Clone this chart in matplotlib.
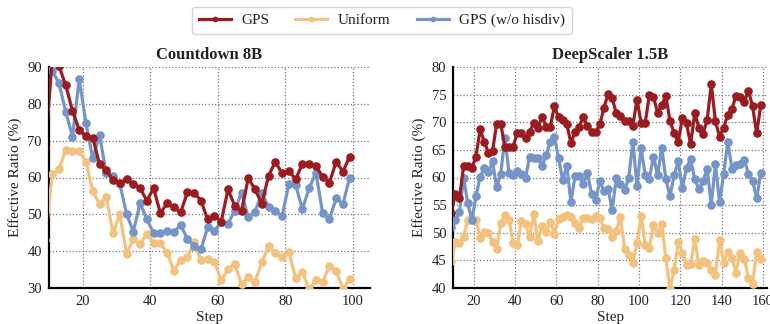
import matplotlib
matplotlib.use("Agg")
import matplotlib.pyplot as plt

plt.rcParams['font.family'] = ['Liberation Serif', 'DejaVu Serif']
plt.rcParams['mathtext.fontset'] = 'stix'

# ---------------- data ----------------
steps_cd = list(range(9, 100, 2))
gps_cd = [68, 92, 90.3, 85.1, 78.1, 72.9, 71.3, 70.8, 63.6, 62.0, 59.3, 58.4, 59.5, 58.2,
          57.1, 53.7, 57.1, 50.3, 53.0, 51.9, 50.5, 56.0, 55.9, 53.7, 48.6, 49.6, 48.0,
          56.8, 52.3, 51.0, 59.8, 56.8, 52.8, 60.5, 64.3, 61.1, 61.8, 59.5, 63.7, 63.6,
          63.1, 60.2, 58.6, 64.3, 61.6, 65.7]
uni_cd = [43, 61.0, 62.2, 67.6, 67.3, 67.3, 64.1, 56.3, 52.8, 54.8, 44.8, 50.1, 39.2, 43.3,
          41.9, 44.7, 42.3, 42.1, 39.6, 34.7, 37.7, 38.4, 42.5, 37.5, 38.0, 37.0, 32.1,
          35.1, 36.6, 31.0, 32.9, 31.7, 37.0, 41.3, 39.5, 38.5, 39.8, 32.6, 34.4, 29.8,
          32.1, 31.7, 36.0, 34.6, 29.8, 32.4]
nohd_cd = [91, 89.0, 85.6, 77.9, 71.1, 86.7, 74.7, 65.2, 71.5, 61.1, 60.5, 58.3, 50.1, 45.3,
           53.0, 48.6, 44.9, 44.9, 45.6, 45.2, 47.1, 43.3, 41.5, 40.5, 46.5, 45.5, 48.0,
           47.5, 51.0, 55.9, 49.2, 50.7, 55.8, 52.1, 50.9, 49.5, 58.2, 58.0, 51.4, 57.1,
           61.3, 50.3, 48.7, 54.3, 52.8, 60.0]

steps_ds = list(range(9, 160, 2))
gps_ds = [53.6, 57.0, 56.3, 62.1, 62.0, 61.7, 63.8, 68.7, 66.5, 64.5, 64.8, 69.7, 69.7,
          65.5, 65.5, 65.6, 68.1, 68.0, 67.1, 68.3, 69.9, 68.9, 71.0, 69.2, 69.2, 72.9,
          70.9, 70.4, 69.7, 66.2, 68.3, 69.2, 71.0, 69.3, 68.3, 68.3, 69.6, 72.6, 75.2,
          74.3, 71.6, 71.2, 70.2, 70.2, 69.4, 74.1, 69.9, 69.9, 75.0, 74.6, 71.7, 73.1,
          74.7, 70.2, 68.1, 66.4, 70.8, 69.8, 66.0, 71.7, 69.0, 67.9, 70.4, 76.9, 70.2,
          67.4, 69.0, 71.4, 72.4, 74.8, 74.6, 73.7, 75.7, 72.9, 68.0, 73.1]
uni_ds = [44.8, 48.3, 48.1, 49.3, 52.3, 52.5, 52.3, 49.0, 50.1, 50.0, 48.3, 47.1, 51.8,
          53.2, 52.3, 48.1, 47.8, 52.1, 51.5, 49.3, 53.4, 48.5, 51.2, 50.1, 51.9, 49.8,
          52.5, 52.8, 53.2, 52.9, 51.7, 50.8, 52.7, 52.6, 52.4, 53.1, 52.6, 50.9, 50.7,
          49.2, 50.4, 52.8, 47.1, 46.0, 44.6, 48.1, 53.1, 47.7, 47.3, 51.4, 49.9, 51.6,
          45.4, 39.8, 43.3, 48.4, 46.4, 44.2, 44.3, 48.9, 44.1, 44.9, 44.6, 43.3, 42.4,
          48.7, 44.6, 46.5, 45.4, 42.8, 46.4, 45.3, 41.9, 40.8, 46.6, 45.3]
nohd_ds = [51.0, 52.3, 53.8, 60.0, 55.3, 52.3, 56.7, 60.1, 61.8, 61.0, 62.9, 58.2, 60.7,
           67.2, 60.8, 60.5, 61.2, 60.6, 59.9, 63.8, 63.6, 63.5, 62.0, 64.1, 66.5, 67.4,
           63.5, 59.5, 62.1, 55.5, 60.3, 60.3, 58.8, 60.8, 57.0, 56.0, 59.4, 57.5, 58.0,
           54.1, 60.0, 58.9, 57.7, 59.9, 66.5, 58.5, 65.3, 60.4, 59.8, 63.8, 60.4, 65.4,
           59.7, 56.6, 60.4, 62.9, 58.1, 61.8, 63.3, 59.7, 57.9, 59.4, 61.6, 55.0, 62.5,
           55.5, 60.6, 66.5, 61.6, 62.3, 62.4, 63.2, 60.7, 59.4, 56.2, 60.9]

labels = ['GPS', 'Uniform', 'GPS (w/o hisdiv)']
colors = ['#9B1C20', '#F4C27F', '#7595C8']

# ---------------- figure ----------------
W, H = 770, 324
fig = plt.figure(figsize=(W / 100, H / 100), dpi=100)
ax1 = fig.add_axes([48.8 / W, 1 - 288 / H, (370 - 48.8) / W, 221 / H])
ax2 = fig.add_axes([453.3 / W, 1 - 288 / H, (767 - 453.3) / W, 221 / H])

panels = [
    (ax1, steps_cd, [gps_cd, uni_cd, nohd_cd], 'Countdown 8B', (10, 105), (30, 90),
     [20, 40, 60, 80, 100], [30, 40, 50, 60, 70, 80, 90]),
    (ax2, steps_ds, [gps_ds, uni_ds, nohd_ds], 'DeepScaler 1.5B', (10, 162), (40, 80),
     [20, 40, 60, 80, 100, 120, 140, 160], [40, 45, 50, 55, 60, 65, 70, 75, 80]),
]

handles = None
for ax, xs, series, title, xlim, ylim, xt, yt in panels:
    hs = []
    order = [1, 2, 0]
    for i in order:
        h, = ax.plot(xs, series[i], color=colors[i], lw=2.3, marker='o', ms=5.2,
                     label=labels[i], zorder=3 + (i == 0))
        hs.append((i, h))
    handles = [h for i, h in sorted(hs)]
    ax.set_xlim(*xlim)
    ax.set_ylim(*ylim)
    ax.set_xticks(xt)
    ax.set_yticks(yt)
    ax.grid(True, linestyle=':', color='#777777', linewidth=0.9)
    ax.set_axisbelow(True)
    for s in ['top', 'right']:
        ax.spines[s].set_visible(False)
    for s in ['left', 'bottom']:
        ax.spines[s].set_color('black')
        ax.spines[s].set_linewidth(1.6)
    ax.tick_params(length=0, pad=5, labelsize=10.5, colors='#222222')
    ax.set_title(title, fontsize=12, fontweight='bold', pad=6, color='#222222')
    ax.set_xlabel('Step', fontsize=11, labelpad=2, color='#222222')
    ax.set_ylabel('Effective Ratio (%)', fontsize=11, labelpad=4, color='#222222')

leg = fig.legend(handles, labels, loc='center', bbox_to_anchor=(382 / W, 1 - 20.5 / H),
                 ncol=3, fontsize=11, frameon=True, fancybox=True,
                 handlelength=2.1, handletextpad=0.7, columnspacing=1.7,
                 markerscale=0.6, borderpad=0.45)
leg.get_frame().set_edgecolor('#cccccc')
leg.get_frame().set_linewidth(1.0)
for t in leg.get_texts():
    t.set_color('#222222')

fig.savefig('out.png', dpi=100)
